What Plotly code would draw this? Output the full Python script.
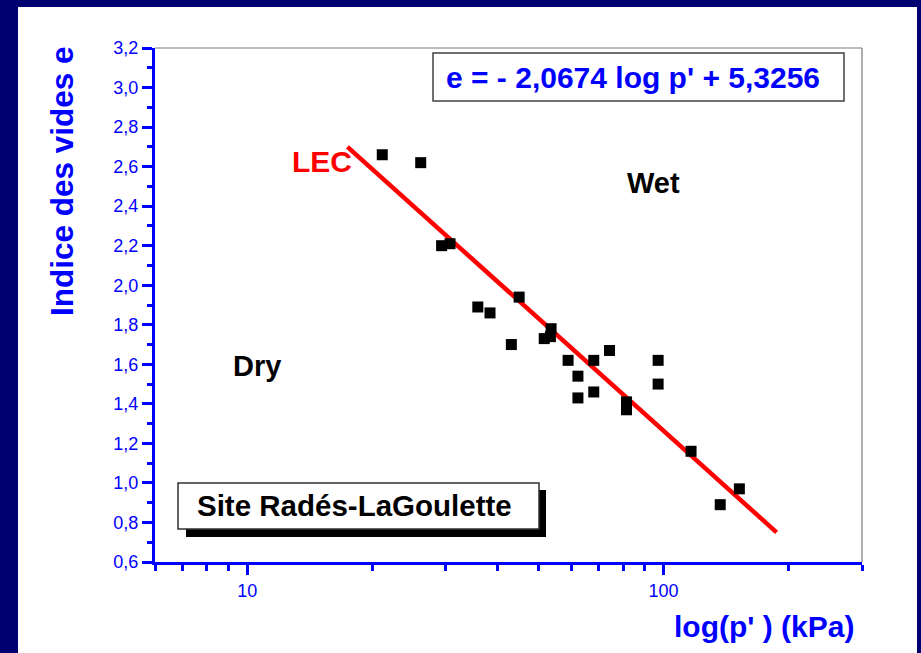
import plotly.graph_objects as go
import math

# ---- data ----
pressure_kpa = [21.1, 26.1, 29.3, 30.7, 35.8, 38.3, 45.0, 43.1, 51.7, 53.7, 53.5, 59.0,
                68.0, 74.2, 62.3, 62.3, 68.0, 81.5, 81.5, 97.1, 97.1, 116.5, 152.2, 136.9]
void_ratio = [2.66, 2.62, 2.20, 2.21, 1.89, 1.86, 1.94, 1.70, 1.73, 1.78, 1.74, 1.62,
              1.62, 1.67, 1.54, 1.43, 1.46, 1.41, 1.37, 1.62, 1.50, 1.16, 0.97, 0.89]
lec_p = [17.4, 187.0]
lec_e = [2.70, 0.75]

x_major_ticks = [10, 100]
x_minor_ticks = [6, 7, 8, 9, 20, 30, 40, 50, 60, 70, 80, 90, 200, 300]

W, H = 921, 653
L, R, T, B = 155, 862, 48, 562  # plot area pixel box


def xp(px):
    return (px - L) / (R - L)


def yp(py):
    return (B - py) / (B - T)


BLUE = "#0000FF"
NAVY = "#000070"
FONT = "Liberation Sans, Arial, sans-serif"

fig = go.Figure()
fig.add_trace(go.Scatter(x=lec_p, y=lec_e, mode="lines",
                         line=dict(color="#FF0000", width=4.5), showlegend=False))
fig.add_trace(go.Scatter(x=pressure_kpa, y=void_ratio, mode="markers",
                         marker=dict(symbol="square", size=11, color="black"),
                         showlegend=False))

shapes = []
# blue slide borders
shapes.append(dict(type="rect", xref="paper", yref="paper", x0=xp(0), x1=xp(18), y0=yp(H), y1=yp(0),
                   fillcolor=NAVY, line=dict(width=0), layer="below"))
shapes.append(dict(type="rect", xref="paper", yref="paper", x0=xp(0), x1=xp(W), y0=yp(7), y1=yp(0),
                   fillcolor=NAVY, line=dict(width=0), layer="below"))
shapes.append(dict(type="rect", xref="paper", yref="paper", x0=xp(917), x1=xp(W), y0=yp(H), y1=yp(0),
                   fillcolor=NAVY, line=dict(width=0), layer="below"))
# frame top/right
shapes.append(dict(type="line", xref="paper", yref="paper", x0=0, x1=1, y0=1, y1=1,
                   line=dict(color="#7a7a7a", width=1.2)))
shapes.append(dict(type="line", xref="paper", yref="paper", x0=1, x1=1, y0=0, y1=1,
                   line=dict(color="#7a7a7a", width=1.2)))
# equation box
shapes.append(dict(type="rect", xref="paper", yref="paper", x0=xp(433), x1=xp(844), y0=yp(101), y1=yp(53),
                   fillcolor="white", line=dict(color="#404040", width=1.5)))
# site box shadow + box
shapes.append(dict(type="rect", xref="paper", yref="paper", x0=xp(186), x1=xp(546), y0=yp(537), y1=yp(490),
                   fillcolor="black", line=dict(width=0)))
shapes.append(dict(type="rect", xref="paper", yref="paper", x0=xp(178), x1=xp(539), y0=yp(529), y1=yp(483),
                   fillcolor="white", line=dict(color="#303030", width=1.5)))

ann = []


def add_text(txt, px, py, color, size, angle=0):
    ann.append(dict(text=f"<b>{txt}</b>", xref="paper", yref="paper", x=xp(px), y=yp(py),
                    xanchor="center", yanchor="middle", showarrow=False, textangle=angle,
                    font=dict(family=FONT, size=size, color=color)))


add_text("e = - 2,0674 log p' + 5,3256", 633, 77, BLUE, 30)
add_text("Site Radés-LaGoulette", 354, 506, "black", 29.5)
add_text("LEC", 322, 161, "#FF0000", 30)
add_text("Wet", 653, 183, "black", 29)
add_text("Dry", 257, 366, "black", 29)
add_text("log(p' ) (kPa)", 764, 626, BLUE, 30)
add_text("Indice des vides e", 62, 181, BLUE, 31.5, angle=-90)

fig.update_layout(
    width=W, height=H,
    margin=dict(l=L, r=W - R, t=T, b=H - B, pad=0),
    paper_bgcolor="white", plot_bgcolor="white",
    separators=", ",
    shapes=shapes, annotations=ann,
    font=dict(family=FONT, color=BLUE),
)
fig.update_xaxes(type="log", range=[math.log10(6), math.log10(300)],
                 showgrid=False, zeroline=False,
                 showline=True, linecolor=BLUE, linewidth=3,
                 ticks="outside", ticklen=10, tickwidth=3, tickcolor=BLUE,
                 tickvals=x_major_ticks, ticktext=[str(v) for v in x_major_ticks],
                 tickfont=dict(family=FONT, size=18, color=BLUE),
                 minor=dict(tickvals=x_minor_ticks, ticks="outside", ticklen=6,
                            tickwidth=3, tickcolor=BLUE, showgrid=False))
fig.update_yaxes(range=[0.6, 3.2], showgrid=False, zeroline=False,
                 showline=True, linecolor=BLUE, linewidth=3,
                 ticks="outside", ticklen=10, tickwidth=3, tickcolor=BLUE,
                 tick0=0.6, dtick=0.2, tickformat=".1f",
                 tickfont=dict(family=FONT, size=18, color=BLUE),
                 minor=dict(dtick=0.1, tick0=0.6, ticks="outside", ticklen=5,
                            tickwidth=3, tickcolor=BLUE, showgrid=False))

fig.write_html("out.html",
               config={"displayModeBar": False},
               post_script="document.body.style.margin='0';document.body.style.padding='0';"
                           "document.documentElement.style.overflow='hidden';")
